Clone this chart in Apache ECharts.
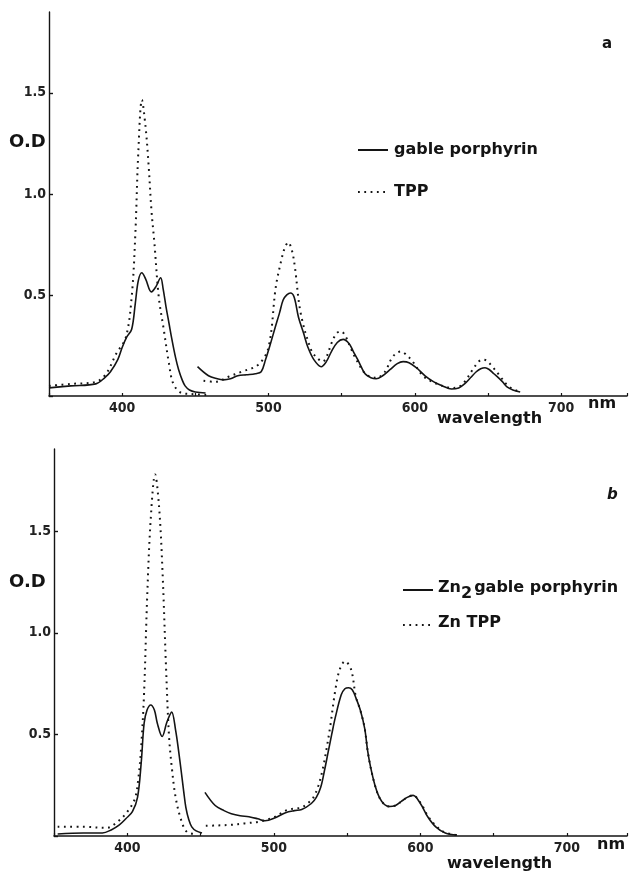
<!DOCTYPE html>
<html>
<head>
<meta charset="utf-8">
<script src="https://cdn.jsdelivr.net/npm/echarts@6/dist/echarts.min.js"></script>
<style>
html,body{margin:0;padding:0;background:#fff;}
#c{width:630px;height:874px;}
</style>
</head>
<body>
<div id="c"></div>
<script>
// ---------- Panel a : gable porphyrin vs TPP ----------
const aGableSoretWl = [350, 365, 382, 388, 392, 397, 400, 403, 406.5, 409, 411, 413.4, 416, 420, 423, 426.3, 428, 430, 432, 434, 436.5, 438.6, 441, 443, 446, 450, 457];
const aGableSoretOd = [0.04, 0.05, 0.06, 0.09, 0.12, 0.18, 0.24, 0.29, 0.33, 0.46, 0.57, 0.61, 0.58, 0.515, 0.54, 0.585, 0.53, 0.44, 0.36, 0.28, 0.19, 0.13, 0.08, 0.05, 0.03, 0.02, 0.015];
const aGableQWl = [451.5, 459, 465, 469, 474, 479, 485, 491, 495, 498, 501, 504.6, 507.5, 510, 512.5, 515, 517.5, 520.5, 524, 527, 531, 536, 539.5, 543, 547, 551, 555, 558, 561, 566, 570, 573.5, 578, 583, 588, 592, 596, 601, 607, 613, 619, 625, 630, 634, 638, 642, 645, 648, 651, 654, 656.5, 660, 663, 667, 672];
const aGableQOd = [0.145, 0.10, 0.085, 0.08, 0.085, 0.10, 0.105, 0.11, 0.12, 0.18, 0.25, 0.34, 0.41, 0.475, 0.5, 0.51, 0.49, 0.39, 0.31, 0.24, 0.18, 0.145, 0.17, 0.22, 0.265, 0.28, 0.26, 0.22, 0.18, 0.11, 0.09, 0.085, 0.10, 0.13, 0.16, 0.17, 0.165, 0.14, 0.10, 0.07, 0.05, 0.035, 0.04, 0.06, 0.09, 0.12, 0.135, 0.14, 0.13, 0.11, 0.095, 0.07, 0.045, 0.03, 0.02];
const aTppSoretWl = [350, 365, 382, 389, 396, 402.5, 406.5, 409, 411, 413.5, 416, 418, 420, 422, 425, 428.4, 432, 435, 440.6, 447, 458];
const aTppSoretOd = [0.05, 0.06, 0.07, 0.11, 0.21, 0.29, 0.49, 0.8, 1.2, 1.465, 1.33, 1.15, 0.92, 0.76, 0.49, 0.33, 0.16, 0.06, 0.015, 0.01, 0.005];
const aTppQWl = [455.6, 463.7, 472.6, 481.5, 493, 500, 505, 508.7, 511, 513.5, 516, 518, 522, 529, 533, 537, 540, 543, 546.5, 549.6, 553, 556, 560, 566, 570, 574, 579.6, 583.7, 587, 590.5, 594, 598.6, 605.5, 612, 619, 625, 630, 634, 639.5, 643, 646, 649, 653, 658.6, 663, 667, 672];
const aTppQOd = [0.075, 0.07, 0.095, 0.12, 0.155, 0.24, 0.54, 0.67, 0.73, 0.76, 0.72, 0.64, 0.41, 0.23, 0.19, 0.17, 0.2, 0.26, 0.31, 0.32, 0.29, 0.24, 0.18, 0.11, 0.095, 0.09, 0.12, 0.18, 0.21, 0.22, 0.205, 0.17, 0.10, 0.07, 0.05, 0.04, 0.045, 0.07, 0.13, 0.165, 0.18, 0.175, 0.145, 0.095, 0.055, 0.035, 0.02];

// ---------- Panel b : Zn2 gable porphyrin vs ZnTPP ----------
const bGableSoretWl = [352.5, 370, 383, 389, 394.6, 399, 403.5, 407, 409.5, 411.5, 413.5, 416, 418.5, 420.5, 423.8, 427, 430.3, 433, 435, 436.7, 438.5, 440, 442, 444, 447, 451];
const bGableSoretOd = [0.01, 0.015, 0.015, 0.03, 0.055, 0.085, 0.12, 0.19, 0.36, 0.555, 0.62, 0.645, 0.62, 0.555, 0.49, 0.56, 0.61, 0.52, 0.42, 0.325, 0.22, 0.14, 0.08, 0.045, 0.025, 0.015];
const bGableQWl = [453, 460, 466, 471, 477, 483, 489, 494, 501, 508, 514, 519, 525.6, 529, 532, 534.5, 537, 539.5, 542, 546, 548.5, 551, 553.5, 556, 559, 562, 564, 566, 569, 572, 575.5, 579, 583, 587, 591, 595, 600, 605, 610.5, 617, 625];
const bGableQOd = [0.215, 0.15, 0.125, 0.11, 0.10, 0.095, 0.085, 0.075, 0.09, 0.115, 0.125, 0.13, 0.16, 0.19, 0.24, 0.32, 0.41, 0.5, 0.585, 0.695, 0.725, 0.73, 0.72, 0.68, 0.62, 0.53, 0.42, 0.34, 0.25, 0.19, 0.155, 0.145, 0.15, 0.17, 0.19, 0.2, 0.16, 0.095, 0.045, 0.015, 0.005];
const bTppSoretWl = [352.5, 370, 386, 392.5, 399, 405, 407.5, 409.5, 411.5, 413.6, 416, 419, 421.7, 424, 426.5, 428.5, 430.5, 433, 436.7, 440.7, 447];
const bTppSoretOd = [0.045, 0.045, 0.04, 0.065, 0.11, 0.18, 0.28, 0.44, 0.71, 1.18, 1.56, 1.78, 1.62, 1.31, 0.82, 0.49, 0.33, 0.19, 0.08, 0.02, 0.01];
const bTppQWl = [453.6, 462, 471, 480, 489.6, 495, 501, 508, 514, 519, 523, 527, 530.5, 533.7, 536, 538.5, 542, 545, 548.6, 552.7, 556, 559, 562, 564, 566, 569, 572, 575.5, 579, 583, 587, 591, 595, 600, 605, 610, 616, 625];
const bTppQOd = [0.05, 0.052, 0.055, 0.062, 0.07, 0.08, 0.095, 0.125, 0.135, 0.14, 0.16, 0.19, 0.25, 0.34, 0.43, 0.54, 0.72, 0.82, 0.86, 0.82, 0.685, 0.62, 0.53, 0.42, 0.34, 0.25, 0.19, 0.155, 0.145, 0.15, 0.17, 0.19, 0.2, 0.165, 0.10, 0.055, 0.02, 0.005];

// ---------- Axis ticks / labels ----------
const xTickLabels = [400, 500, 600, 700];
const yTickLabels = [0.5, 1.0, 1.5];
const legendA = ['gable porphyrin', 'TPP'];
const legendB = ['Zn2gable porphyrin', 'Zn TPP'];

const pairs = (wl, od) => wl.map((w, i) => [w, od[i]]);

const INK = '#141414';
const tickFont = "'Liberation Sans Narrow','DejaVu Sans Condensed',sans-serif";
const textFont = "'DejaVu Sans',sans-serif";

function xAxis(gridIndex, max) {
  return {
    type: 'value', gridIndex, min: 350, max, interval: 50,
    axisLine: { show: true, onZero: false, lineStyle: { color: INK, width: 1.6 } },
    axisTick: { show: true, inside: true, length: 3, lineStyle: { color: INK, width: 1.2 } },
    axisLabel: {
      margin: 5, color: '#222', fontFamily: tickFont, fontSize: 14, fontWeight: 'bold',
      formatter: v => xTickLabels.indexOf(v) >= 0 ? String(v) : ''
    },
    splitLine: { show: false }
  };
}
function yAxis(gridIndex, max) {
  return {
    type: 'value', gridIndex, min: 0, max, interval: 0.5,
    axisLine: { show: true, lineStyle: { color: INK, width: 1.4 } },
    axisTick: { show: true, inside: true, length: 4, lineStyle: { color: INK, width: 1.4 } },
    axisLabel: {
      margin: 3, color: '#222', fontFamily: tickFont, fontSize: 14, fontWeight: 'bold',
      showMaxLabel: false,
      formatter: v => {
        const hit = yTickLabels.find(t => Math.abs(t - v) < 1e-6);
        return hit !== undefined ? hit.toFixed(1) : '';
      }
    },
    splitLine: { show: false }
  };
}
const solid = { color: INK, width: 1.6, type: 'solid' };
const dotted = { color: INK, width: 2, type: [1.8, 4.5] };
function line(name, data, axisIdx, style) {
  return {
    name, type: 'line', xAxisIndex: axisIdx, yAxisIndex: axisIdx, data,
    symbol: 'none', smooth: 0.35, lineStyle: style, itemStyle: { color: INK },
    silent: true
  };
}

const chart = echarts.init(document.getElementById('c'), null, { renderer: 'canvas' });
chart.setOption({
  animation: false,
  backgroundColor: '#fff',
  grid: [
    { left: 49, top: 12, width: 581, height: 384 },
    { left: 54, top: 449, width: 576, height: 387 }
  ],
  xAxis: [xAxis(0, 745), xAxis(1, 741)],
  yAxis: [yAxis(0, 1.9), yAxis(1, 1.905)],
  legend: [
    {
      data: legendA, left: 352, top: 137, orient: 'vertical', itemGap: 26,
      itemWidth: 30, itemHeight: 14, selectedMode: false,
      itemStyle: { opacity: 0 },
      textStyle: { color: INK, fontFamily: textFont, fontSize: 16, fontWeight: 'bold', padding: [0, 0, 0, 1] }
    },
    {
      data: legendB, left: 397, top: 575, orient: 'vertical', itemGap: 13,
      itemWidth: 30, itemHeight: 14, selectedMode: false,
      itemStyle: { opacity: 0 },
      formatter: n => n === 'Zn2gable porphyrin' ? '{t|Zn}{s|2}{t|gable porphyrin}' : '{t|' + n + '}',
      textStyle: {
        color: INK, fontFamily: textFont, fontSize: 16, fontWeight: 'bold', padding: [0, 0, 0, 0],
        rich: {
          t: { color: INK, fontFamily: textFont, fontSize: 16, fontWeight: 'bold', lineHeight: 20, verticalAlign: 'top' },
          s: { color: INK, fontFamily: textFont, fontSize: 16, fontWeight: 'bold', lineHeight: 20, verticalAlign: 'top', padding: [6, 2, 0, 0] }
        }
      }
    }
  ],
  series: [
    line('gable porphyrin', pairs(aGableSoretWl, aGableSoretOd), 0, solid),
    line('gable porphyrin', pairs(aGableQWl, aGableQOd), 0, solid),
    line('TPP', pairs(aTppSoretWl, aTppSoretOd), 0, dotted),
    line('TPP', pairs(aTppQWl, aTppQOd), 0, dotted),
    line('Zn2gable porphyrin', pairs(bGableSoretWl, bGableSoretOd), 1, solid),
    line('Zn2gable porphyrin', pairs(bGableQWl, bGableQOd), 1, solid),
    line('Zn TPP', pairs(bTppSoretWl, bTppSoretOd), 1, dotted),
    line('Zn TPP', pairs(bTppQWl, bTppQOd), 1, dotted)
  ],
  graphic: [
    { type: 'text', left: 9, top: 133, style: { text: 'O.D', fill: INK, font: "bold 18px 'DejaVu Sans',sans-serif" } },
    { type: 'text', left: 9, top: 573, style: { text: 'O.D', fill: INK, font: "bold 18px 'DejaVu Sans',sans-serif" } },
    { type: 'text', left: 602, top: 37, style: { text: 'a', fill: INK, font: "bold 15px 'DejaVu Sans',sans-serif" } },
    { type: 'text', left: 607, top: 488, style: { text: 'b', fill: INK, font: "italic bold 15px 'DejaVu Sans',sans-serif" } },
    { type: 'text', left: 588, top: 396, style: { text: 'nm', fill: INK, font: "bold 16px 'DejaVu Sans',sans-serif" } },
    { type: 'text', left: 597, top: 837, style: { text: 'nm', fill: INK, font: "bold 16px 'DejaVu Sans',sans-serif" } },
    { type: 'text', left: 437, top: 411, style: { text: 'wavelength', fill: INK, font: "bold 16px 'DejaVu Sans',sans-serif" } },
    { type: 'text', left: 447, top: 856, style: { text: 'wavelength', fill: INK, font: "bold 16px 'DejaVu Sans',sans-serif" } }
  ]
});
</script>
</body>
</html>
